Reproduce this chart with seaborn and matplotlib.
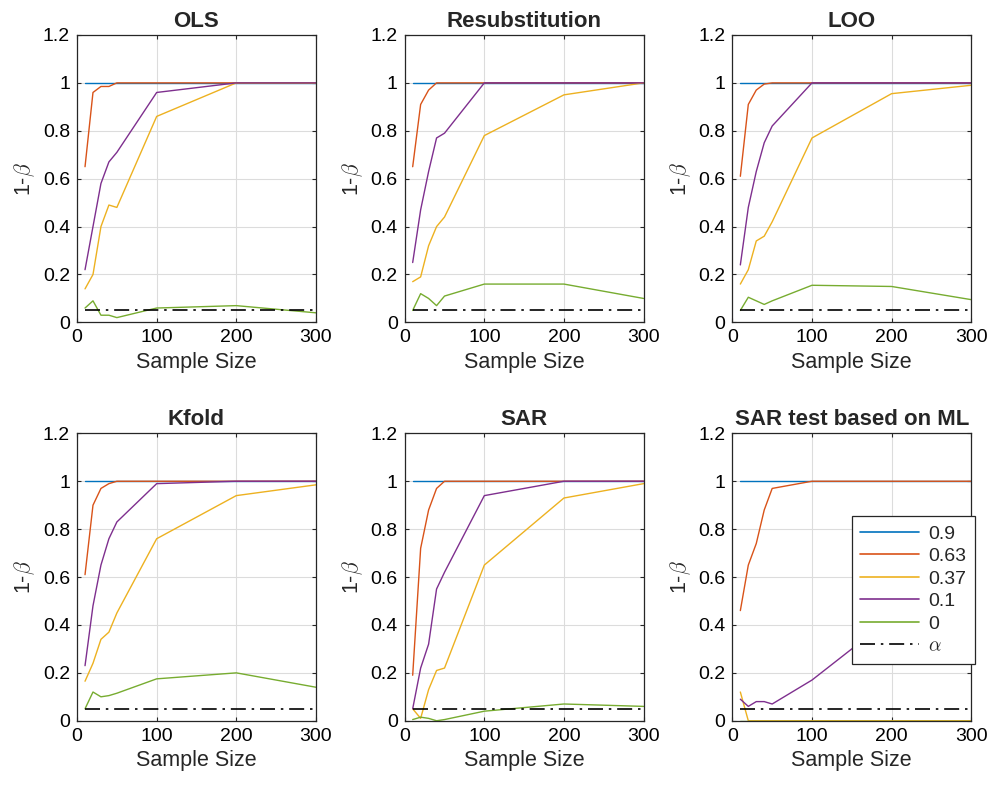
import pandas as pd
import matplotlib.pyplot as plt
import seaborn as sns
from matplotlib.lines import Line2D
from matplotlib.ticker import FormatStrFormatter

sns.set_style("ticks")
plt.rcParams['font.family'] = ['Liberation Sans', 'DejaVu Sans']
plt.rcParams['mathtext.fontset'] = 'cm'

# Sample sizes on the x axis
sample_sizes = [10, 20, 30, 40, 50, 100, 200, 300]
rho_labels = ['0.9', '0.63', '0.37', '0.1', '0']
alpha_level = 0.05

# MATLAB default colour order
rho_colors = ['#0072BD', '#D95319', '#EDB120', '#7E2F8E', '#77AC30']

panel_titles = ['OLS', 'Resubstitution', 'LOO', 'Kfold', 'SAR', 'SAR test based on ML']

# power (1-beta) per panel, one list per rho
ols = [
    [1, 1, 1, 1, 1, 1, 1, 1],
    [0.65, 0.96, 0.985, 0.985, 1, 1, 1, 1],
    [0.14, 0.20, 0.40, 0.49, 0.48, 0.86, 1, 1],
    [0.22, 0.40, 0.58, 0.67, 0.71, 0.96, 1, 1],
    [0.06, 0.09, 0.03, 0.03, 0.02, 0.06, 0.07, 0.04],
]
resub = [
    [1, 1, 1, 1, 1, 1, 1, 1],
    [0.65, 0.91, 0.97, 1, 1, 1, 1, 1],
    [0.17, 0.19, 0.32, 0.40, 0.44, 0.78, 0.95, 1],
    [0.25, 0.47, 0.63, 0.77, 0.79, 1, 1, 1],
    [0.05, 0.12, 0.10, 0.07, 0.11, 0.16, 0.16, 0.10],
]
loo = [
    [1, 1, 1, 1, 1, 1, 1, 1],
    [0.61, 0.91, 0.97, 0.995, 1, 1, 1, 1],
    [0.16, 0.22, 0.34, 0.36, 0.42, 0.77, 0.955, 0.99],
    [0.24, 0.48, 0.63, 0.75, 0.82, 1, 1, 1],
    [0.05, 0.105, 0.09, 0.075, 0.09, 0.155, 0.15, 0.095],
]
kfold = [
    [1, 1, 1, 1, 1, 1, 1, 1],
    [0.61, 0.90, 0.97, 0.99, 1, 1, 1, 1],
    [0.165, 0.24, 0.34, 0.37, 0.45, 0.76, 0.94, 0.985],
    [0.23, 0.48, 0.65, 0.76, 0.83, 0.99, 1, 1],
    [0.05, 0.12, 0.10, 0.105, 0.115, 0.175, 0.20, 0.14],
]
sar = [
    [1, 1, 1, 1, 1, 1, 1, 1],
    [0.19, 0.72, 0.88, 0.97, 1, 1, 1, 1],
    [0.05, 0.01, 0.13, 0.21, 0.22, 0.65, 0.93, 0.99],
    [0.05, 0.22, 0.32, 0.55, 0.62, 0.94, 1, 1],
    [0.005, 0.015, 0.01, 0.0, 0.005, 0.04, 0.07, 0.06],
]
sar_ml = [
    [1, 1, 1, 1, 1, 1, 1, 1],
    [0.46, 0.65, 0.74, 0.88, 0.97, 1, 1, 1],
    [0.12, 0.0, 0.0, 0.0, 0.0, 0.0, 0.0, 0.0],
    [0.09, 0.06, 0.08, 0.08, 0.07, 0.17, 0.43, 0.65],
    [0, 0, 0, 0, 0, 0, 0, 0],
]
panel_values = [ols, resub, loo, kfold, sar, sar_ml]

rows = []
for title, values in zip(panel_titles, panel_values):
    for rho, series in zip(rho_labels, values):
        for n, p in zip(sample_sizes, series):
            rows.append({'panel': title, 'n': n, 'rho': rho, 'power': p})
df = pd.DataFrame(rows)
palette = dict(zip(rho_labels, rho_colors))

fig, axes = plt.subplots(2, 3, figsize=(9.88, 7.86), dpi=100)
fig.subplots_adjust(left=0.078, right=0.983, bottom=0.083, top=0.9555,
                    wspace=0.372, hspace=0.386)

dash_dot = (0, (9, 3.5, 1.5, 3.5))

for ax, title in zip(axes.flat, panel_titles):
    sub = df[df['panel'] == title]
    sns.lineplot(data=sub, x='n', y='power', hue='rho', hue_order=rho_labels,
                 palette=palette, estimator=None, linewidth=1.0,
                 legend=False, ax=ax)
    sns.lineplot(x=sample_sizes, y=[alpha_level] * len(sample_sizes),
                 color='black', linewidth=1.2, linestyle=dash_dot, ax=ax)

    ax.set_xlim(0, 300)
    ax.set_ylim(0, 1.2)
    ax.set_xticks([0, 100, 200, 300])
    ax.set_yticks([0, 0.2, 0.4, 0.6, 0.8, 1.0, 1.2])
    ax.yaxis.set_major_formatter(FormatStrFormatter('%g'))
    ax.grid(True, color='#dcdcdc', linewidth=0.8)
    ax.set_axisbelow(True)
    for spine in ax.spines.values():
        spine.set_color('#262626')
        spine.set_linewidth(0.9)
    ax.tick_params(direction='in', length=3, labelsize=14, colors='#262626',
                   labelcolor='black', top=True, right=True, pad=5)
    ax.set_title(title, fontsize=16, fontweight='bold', pad=6)
    ax.set_xlabel('Sample Size', fontsize=15.5, labelpad=4)
    ax.set_ylabel(r'1-$\beta$', fontsize=15.5, labelpad=4)

handles = [Line2D([], [], color=c, linewidth=1.2) for c in rho_colors]
handles.append(Line2D([], [], color='black', linewidth=1.2, linestyle=dash_dot))
labels = rho_labels + [r'$\alpha$']
leg = fig.legend(handles, labels, loc='upper right', bbox_to_anchor=(0.987, 0.343),
                 borderaxespad=0, fontsize=14, handlelength=3.0, handletextpad=0.5,
                 labelspacing=0.25, borderpad=0.45,
                 fancybox=False, framealpha=1, edgecolor='#262626')
leg.get_frame().set_linewidth(0.9)

plt.savefig('out.png', dpi=100)
plt.close(fig)
